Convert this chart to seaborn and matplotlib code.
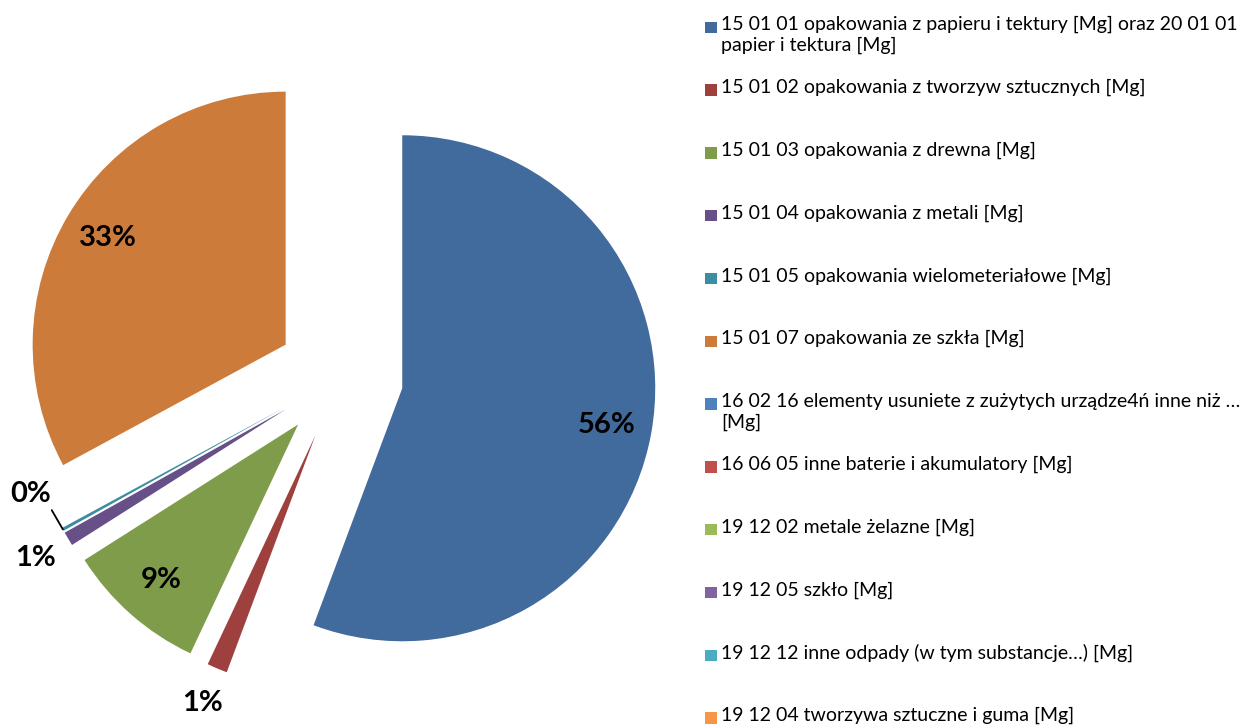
import numpy as np
import matplotlib
matplotlib.use("Agg")
import matplotlib.pyplot as plt
import seaborn as sns
from matplotlib.patches import Rectangle

# ---------------- data ----------------
categories = [
    "15 01 01 opakowania z papieru i tektury [Mg] oraz 20 01 01\npapier i tektura [Mg]",
    "15 01 02 opakowania z tworzyw sztucznych [Mg]",
    "15 01 03 opakowania z drewna [Mg]",
    "15 01 04 opakowania z metali [Mg]",
    "15 01 05 opakowania wielometeriałowe [Mg]",
    "15 01 07 opakowania ze szkła [Mg]",
    "16 02 16 elementy usuniete z zużytych urządze4ń inne niż …\n[Mg]",
    "16 06 05 inne baterie i akumulatory [Mg]",
    "19 12 02 metale żelazne [Mg]",
    "19 12 05 szkło [Mg]",
    "19 12 12 inne odpady (w tym substancje…) [Mg]",
    "19 12 04 tworzywa sztuczne i guma [Mg]",
]
shares = [55.7, 1.3, 9.0, 0.9, 0.2, 32.9, 0, 0, 0, 0, 0, 0]
colors = ["#416B9D", "#9E413E", "#7F9C4A", "#674F87", "#3C8DA3", "#CC7B3A",
          "#4F81BD", "#C0504D", "#9BBB59", "#8064A2", "#4BACC6", "#F79646"]

# ---------------- style ----------------
sns.set_theme(style="white")
plt.rcParams["font.family"] = ["Lato", "DejaVu Sans"]
palette = sns.color_palette(colors)

W, H = 1243, 726
fig = plt.figure(figsize=(W / 100, H / 100), dpi=100)

# pie geometry (pixels)
cx, cy, R = 340, 377, 253
ax = fig.add_axes([0, 0, 680 / W, 1])

vals = [v for v in shares if v > 0]
cols = [palette[i] for i, v in enumerate(shares) if v > 0]
wedges, _ = ax.pie(vals, colors=cols, startangle=90, counterclock=False,
                   explode=[0.25] * len(vals), radius=1,
                   wedgeprops=dict(linewidth=0))
ax.set_xlim(-cx / R, (680 - cx) / R)
ax.set_ylim(-(H - cy) / R, cy / R)
ax.set_axis_off()

total = sum(vals)
lab_kw = dict(ha="center", va="center", fontsize=21, fontweight="bold",
              color="black")
for w, v in zip(wedges, vals):
    mid = np.deg2rad((w.theta1 + w.theta2) / 2)
    c = np.array(w.center)
    pct = f"{v / total * 100:.0f}%"
    if v >= 5:
        p = c + 0.82 * np.array([np.cos(mid), np.sin(mid)])
        ax.text(p[0], p[1], pct, **lab_kw)
    elif v >= 0.5:
        p = c + 1.15 * np.array([np.cos(mid), np.sin(mid)])
        ax.text(p[0], p[1], pct, **lab_kw)
    else:
        tip = c + 1.0 * np.array([np.cos(mid), np.sin(mid)])
        lab_ang = mid - np.deg2rad(10)
        p = c + 1.06 * np.array([np.cos(lab_ang), np.sin(lab_ang)])
        ax.annotate(pct, xy=tip, xytext=p, **lab_kw,
                    arrowprops=dict(arrowstyle="-", color="black", lw=1.3,
                                    relpos=(0.97, 0.0), shrinkA=0, shrinkB=0))

# ---------------- legend (manual, Excel-like) ----------------
y0, step = 25, 62.8
for i, (lab, col) in enumerate(zip(categories, palette)):
    yc = y0 + i * step
    fig.add_artist(Rectangle((705 / W, 1 - (yc + 8) / H), 11.5 / W, 11.5 / H,
                             transform=fig.transFigure, facecolor=col,
                             edgecolor="none"))
    fig.text(721 / W, 1 - (yc - 9) / H, lab, ha="left", va="top",
             fontsize=14, color="black", linespacing=1.25)

fig.savefig("out.png", dpi=100)
